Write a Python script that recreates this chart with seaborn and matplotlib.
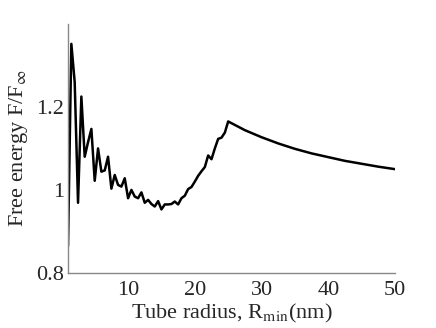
import numpy as np
import pandas as pd
import seaborn as sns
import matplotlib.pyplot as plt

# values
radius = [1.0, 1.5, 2.0, 2.5, 3.0, 3.5, 4.0, 4.5, 5.0, 5.5, 6.0, 6.5, 7.0, 7.5,
          8.0, 8.5, 9.0, 9.5, 10.0, 10.5, 11.0, 11.5, 12.0, 12.5, 13.0, 13.5,
          14.0, 14.5, 15.0, 15.5, 16.0, 16.5, 17.0, 17.5, 18.0, 18.5, 19.0,
          19.5, 20.0, 20.5, 21.0, 21.5, 22.0, 22.5, 23.0, 23.5, 24.0, 24.5,
          25.0, 27.5, 30.0, 32.5, 35.0, 37.5, 40.0, 42.5, 45.0, 47.5, 50.0]
energy = [0.865, 1.352, 1.26, 0.969, 1.225, 1.080, 1.115, 1.147, 1.022, 1.100,
          1.044, 1.047, 1.080, 1.003, 1.036, 1.012, 1.008, 1.028, 0.980, 1.000,
          0.984, 0.980, 0.994, 0.969, 0.976, 0.966, 0.960, 0.973, 0.953, 0.965,
          0.965, 0.966, 0.972, 0.965, 0.980, 0.986, 1.002, 1.007, 1.020, 1.034,
          1.045, 1.055, 1.083, 1.074, 1.100, 1.123, 1.126, 1.138, 1.165, 1.144,
          1.127, 1.112, 1.099, 1.088, 1.079, 1.070, 1.063, 1.056, 1.050]
x_ticks = [10, 20, 30, 40, 50]
y_ticks = [0.8, 1.0, 1.2]
y_tick_labels = ['0.8', '1', '1.2']

df = pd.DataFrame({'radius': radius, 'energy': energy})

sns.set_style('white')
plt.rcParams['font.family'] = ['Liberation Serif', 'DejaVu Serif']
plt.rcParams['mathtext.fontset'] = 'stix'

fig = plt.figure(figsize=(4.36, 3.28), dpi=100)
ax = fig.add_axes([0.156, 0.168, 0.75, 0.759])

sns.lineplot(data=df, x='radius', y='energy', color='black', linewidth=1.8, ax=ax)

ax.set_xlim(1, 50)
ax.set_ylim(0.8, 1.4)
ax.set_xticks(x_ticks)
ax.set_yticks(y_ticks)
ax.set_yticklabels(y_tick_labels)
ax.tick_params(direction='in', length=3, color='#888888', labelsize=16)
ax.tick_params(axis='x', pad=6)
ax.tick_params(axis='y', pad=3)

for side in ['top', 'right']:
    ax.spines[side].set_visible(False)
for side in ['left', 'bottom']:
    ax.spines[side].set_color('#888888')
    ax.spines[side].set_linewidth(1.0)

ax.set_xlabel('Tube radius, R$_{\\mathrm{min}}$(nm)', fontsize=16, labelpad=1)
ax.set_ylabel('Free energy F/F$_{\\infty}$', fontsize=16, labelpad=4)

fig.savefig('out.png', dpi=100)
